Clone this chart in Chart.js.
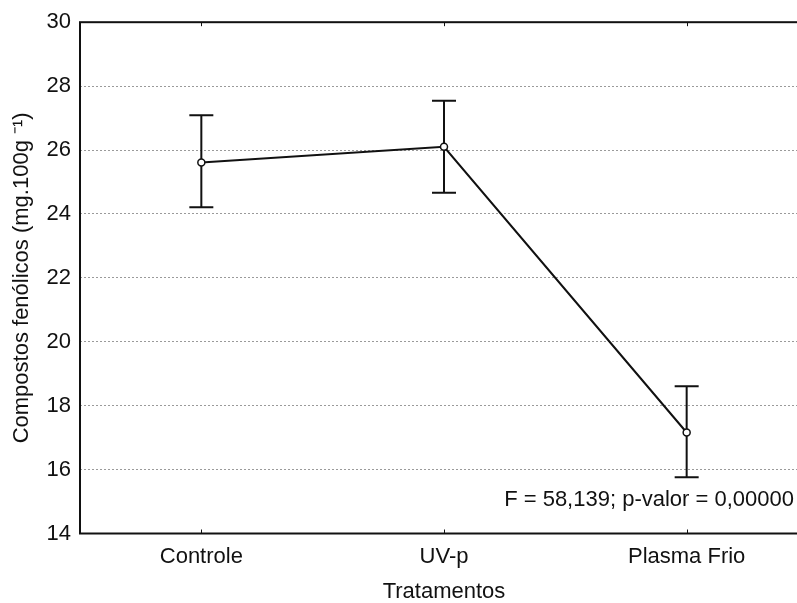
<!DOCTYPE html>
<html>
<head>
<meta charset="utf-8">
<script src="https://cdn.jsdelivr.net/npm/chart.js@4.4.1/dist/chart.umd.min.js"></script>
<style>
  html, body { margin: 0; padding: 0; background: #fff; overflow: hidden; }
  #wrap { position: relative; width: 830px; height: 603px; }
</style>
</head>
<body>
<div id="wrap"><canvas id="chart"></canvas></div>
<script>
// Treatments and mean phenolic content with confidence interval limits
const categories = ['Controle', 'UV-p', 'Plasma Frio'];
const means = [25.61, 26.10, 17.16];
const lower = [24.21, 24.66, 15.76];
const upper = [27.09, 27.54, 18.61];
const yTicks = [14, 16, 18, 20, 22, 24, 26, 28, 30];
const statText = 'F = 58,139; p-valor = 0,00000';

const FONT = "'Liberation Sans', Arial, Helvetica, sans-serif";
const INK = '#111';

// Frame, small axis tick marks and the ANOVA annotation
const framePlugin = {
  id: 'frame',
  afterDraw(chart) {
    const { ctx, chartArea: a, scales: { x } } = chart;
    ctx.save();
    ctx.strokeStyle = INK;
    ctx.lineWidth = 2;
    ctx.strokeRect(a.left, a.top, a.right - a.left, a.bottom - a.top);
    ctx.lineWidth = 1;
    categories.forEach((c, i) => {
      const px = Math.round(x.getPixelForValue(i)) + 0.5;
      ctx.beginPath();
      ctx.moveTo(px, a.bottom); ctx.lineTo(px, a.bottom - 4);
      ctx.moveTo(px, a.top); ctx.lineTo(px, a.top + 4);
      ctx.stroke();
    });
    ctx.fillStyle = INK;
    ctx.font = `22px ${FONT}`;
    ctx.textAlign = 'right';
    ctx.textBaseline = 'alphabetic';
    ctx.fillText(statText, 794, a.bottom - 28);
    ctx.restore();
  }
};

// Whiskers between lower and upper limits, drawn under the markers
const errorBarPlugin = {
  id: 'errorBars',
  beforeDatasetsDraw(chart) {
    const { ctx, scales: { x, y } } = chart;
    ctx.save();
    ctx.strokeStyle = INK;
    ctx.lineWidth = 2;
    categories.forEach((c, i) => {
      const px = x.getPixelForValue(i);
      const yl = y.getPixelForValue(lower[i]);
      const yu = y.getPixelForValue(upper[i]);
      ctx.beginPath();
      ctx.moveTo(px, yl); ctx.lineTo(px, yu);
      ctx.moveTo(px - 12, yu); ctx.lineTo(px + 12, yu);
      ctx.moveTo(px - 12, yl); ctx.lineTo(px + 12, yl);
      ctx.stroke();
    });
    ctx.restore();
  }
};

new Chart(document.getElementById('chart'), {
  type: 'line',
  data: {
    labels: categories,
    datasets: [{
      data: means,
      borderColor: INK,
      borderWidth: 2,
      pointRadius: 3.5,
      pointBorderWidth: 1.5,
      pointBackgroundColor: '#fff',
      pointBorderColor: INK,
      tension: 0
    }]
  },
  options: {
    responsive: true,
    maintainAspectRatio: false,
    animation: false,
    layout: { padding: { top: 18.5, right: 22, bottom: 0, left: 0 } },
    plugins: { legend: { display: false }, tooltip: { enabled: false } },
    scales: {
      x: {
        type: 'category',
        offset: true,
        grid: { display: false },
        border: { display: false },
        ticks: { color: INK, font: { family: FONT, size: 22 }, padding: 2, maxRotation: 0 },
        title: { display: true, text: 'Tratamentos', color: INK, font: { family: FONT, size: 22, lineHeight: 1.0 }, padding: { top: 0, bottom: 0 } },
        afterFit(scale) { scale.height = 69.5; }
      },
      y: {
        min: 14,
        max: 30,
        afterBuildTicks(scale) { scale.ticks = yTicks.map(v => ({ value: v })); },
        grid: {
          drawTicks: false,
          lineWidth: 1,
          color: ctx => (ctx.tick && (ctx.tick.value === 14 || ctx.tick.value === 30)) ? 'rgba(0,0,0,0)' : '#9a9a9a'
        },
        border: { display: false, dash: [2, 2] },
        ticks: { color: INK, font: { family: FONT, size: 22 }, padding: 9 },
        title: { display: true, text: 'Compostos fenólicos (mg.100g ⁻¹)', color: INK, font: { family: FONT, size: 22 }, padding: { top: 9, bottom: 0 } },
        afterFit(scale) { scale.width = 80; }
      }
    }
  },
  plugins: [errorBarPlugin, framePlugin]
});
</script>
</body>
</html>
